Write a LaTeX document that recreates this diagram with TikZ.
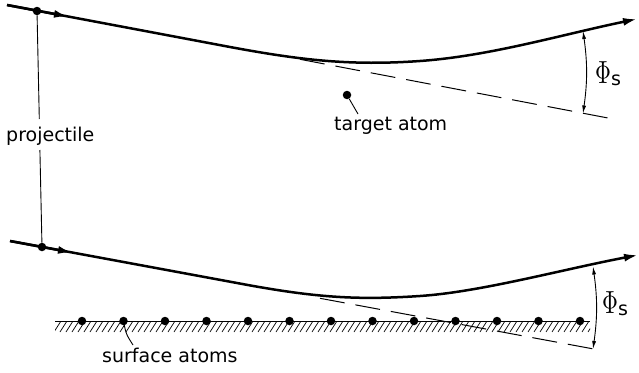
\documentclass[tikz,border=0pt]{standalone}
\usepackage{fontspec}
\newfontfamily\lab{DejaVu Sans}
\usetikzlibrary{arrows.meta}
\begin{document}
\begin{tikzpicture}[x=1pt,y=-1pt,
  traj/.style={line width=2.5pt},
  thinline/.style={line width=0.9pt},
  dashline/.style={line width=1pt, dash pattern=on 25pt off 11pt},
  atom/.style={circle,fill=black,inner sep=0pt,minimum size=8.5pt},
  lbl/.style={font=\lab\fontsize{19}{19}\selectfont, inner sep=0pt, anchor=base west},
  tiparrow/.style={-{Latex[length=14pt,width=8pt]}},
  angarr/.style={thinline,{Latex[length=8pt,width=4pt]}-{Latex[length=8pt,width=4pt]}},
  philbl/.style={inner sep=0pt, anchor=base west},
]
\useasboundingbox (0,0) rectangle (639,372);

% ---------- top: single target atom ----------
\coordinate (s1) at (7,5);
\coordinate (a1) at (68,16.5);
\coordinate (c1) at (230,47);
\coordinate (m1) at (420,61);
\coordinate (e1) at (637,19);
\draw[traj,tiparrow] (s1) -- (c1) .. controls (300,60) and (350,66) .. (m1)
      .. controls (490,56) and (560,35) .. (e1);
\draw[traj,tiparrow] (s1) -- (a1);
\node[atom] (d1) at (37,11) {};

\coordinate (p1) at (300,59.3);
\coordinate (q1) at (608,118);
\draw[dashline] (p1) -- (q1);

\coordinate (u1) at (583,31);
\coordinate (v1) at (583,113.5);
\draw[angarr] (u1) to[bend left=8] (v1);
\node[philbl] (phi1) at (595,83) {\scalebox{2.2}[3.2]{$\Phi$}\lab\fontsize{19}{19}\selectfont\raisebox{-2pt}{s}};

\node[atom] (ta) at (347,95) {};
\coordinate (tl) at (358,114);
\draw[thinline] (ta) -- (tl);
\node[lbl] (tlab) at (334,130) {target atom};

% ---------- projectile label ----------
\coordinate (pv1) at (39.3,119);
\coordinate (pv2) at (39.9,150);
\node[lbl] (plab) at (6,141) {projectile};

% ---------- bottom: surface ----------
\coordinate (s2) at (10,241);
\coordinate (a2) at (72,252.5);
\coordinate (c2) at (250,285.4);
\coordinate (m2) at (420,296);
\coordinate (e2) at (638,255);
\draw[traj,tiparrow] (s2) -- (c2) .. controls (320,298) and (360,300) .. (m2)
      .. controls (480,292) and (560,270) .. (e2);
\draw[traj,tiparrow] (s2) -- (a2);
\node[atom] (d2) at (42,247) {};

\draw[thinline] (d1) -- (pv1);
\draw[thinline] (pv2) -- (d2);

\coordinate (p2) at (320,298.3);
\coordinate (q2) at (603,350.7);
\draw[dashline] (p2) -- (q2);

\coordinate (u2) at (593,266.5);
\coordinate (v2) at (593,349);
\draw[angarr] (u2) to[bend left=8] (v2);
\node[philbl] (phi2) at (602,313) {\scalebox{2.2}[3.2]{$\Phi$}\lab\fontsize{19}{19}\selectfont\raisebox{-2pt}{s}};

\coordinate (sl) at (55,321);
\coordinate (sr) at (590,321);
\begin{scope}
  \clip (55,321) rectangle (590,332);
  \foreach \x in {48,54,...,596} \draw[line width=0.7pt] (\x,332) -- (\x+7,321);
\end{scope}
\draw[thinline] (sl) -- (sr);
\foreach \i in {0,...,12} \node[atom] (sa\i) at ({82+41.5*\i},321) {};

\coordinate (sleader) at (133,345);
\draw[thinline] (sa1.center) .. controls (126,334) .. (sleader);
\node[lbl] (slab) at (102,362) {surface atoms};
\end{tikzpicture}
\end{document}
